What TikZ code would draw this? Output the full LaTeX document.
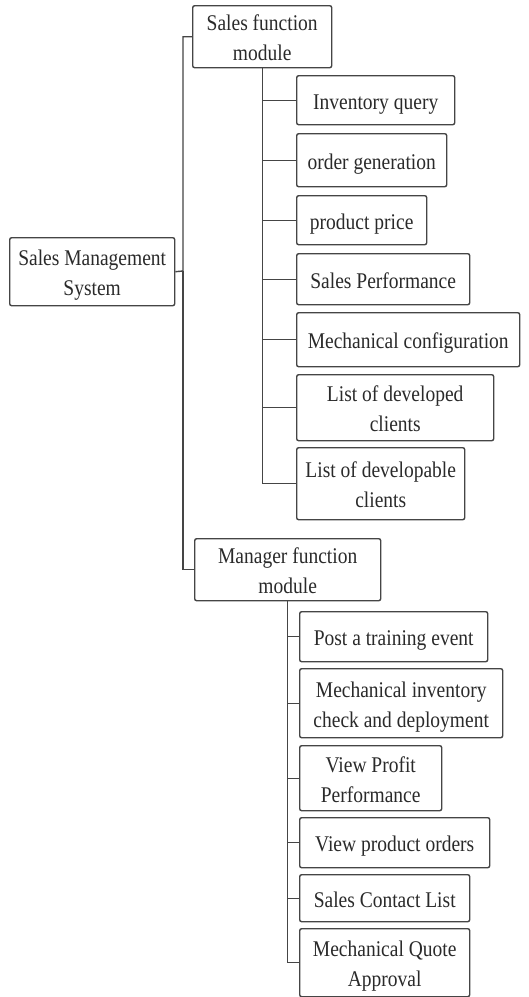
\documentclass[tikz,border=0pt]{standalone}
\usepackage{fontspec}
\setmainfont{Liberation Serif}
\usepackage{graphicx}
\definecolor{linec}{HTML}{454545}
\definecolor{txtc}{HTML}{2A2A2A}
\newcommand{\stt}[1]{\raisebox{-3pt}[\height][\depth]{\scalebox{1}[1.15]{\begin{tabular}{@{}c@{}}#1\end{tabular}}}}
\begin{document}
\begin{tikzpicture}[x=1pt,y=-1pt,
  box/.style={draw=linec, line width=1.4pt, rounded corners=2pt, inner sep=0pt,
    anchor=north west, text=txtc, font=\fontsize{19.5}{26}\selectfont, align=center},
  conn/.style={draw=linec, line width=1.4pt}]
\fill[white] (0,0) rectangle (528,997);
\useasboundingbox (0,0) rectangle (528,997);
% root and modules
\node[box, minimum width=165pt, minimum height=68pt] (root) at (9,237) {\stt{Sales Management\\System}};
\node[box, minimum width=139pt, minimum height=62pt] (sfm) at (192,5) {\stt{Sales function\\module}};
\node[box, minimum width=186pt, minimum height=62pt] (mfm) at (194,538) {\stt{Manager function\\module}};
% sales children
\node[box, minimum width=158pt, minimum height=49pt] (c1) at (296,75) {\stt{Inventory query}};
\node[box, minimum width=150pt, minimum height=53pt] (c2) at (296,133) {\stt{order generation}};
\node[box, minimum width=130pt, minimum height=49pt] (c3) at (296,195) {\stt{product price}};
\node[box, minimum width=173pt, minimum height=51pt] (c4) at (296,253) {\stt{Sales Performance}};
\node[box, minimum width=223pt, minimum height=54pt] (c5) at (296,312) {\stt{Mechanical configuration}};
\node[box, minimum width=197pt, minimum height=66pt] (c6) at (296,374) {\stt{List of developed\\clients}};
\node[box, minimum width=168pt, minimum height=72pt] (c7) at (296,447) {\stt{List of developable\\clients}};
% manager children
\node[box, minimum width=188pt, minimum height=50pt] (m1) at (299,611) {\stt{Post a training event}};
\node[box, minimum width=203pt, minimum height=69pt] (m2) at (299,668) {\stt{Mechanical inventory\\check and deployment}};
\node[box, minimum width=142pt, minimum height=65pt] (m3) at (299,745) {\stt{View Profit\\Performance}};
\node[box, minimum width=190pt, minimum height=50pt] (m4) at (299,817) {\stt{View product orders}};
\node[box, minimum width=170pt, minimum height=47pt] (m5) at (299,874) {\stt{Sales Contact List}};
\node[box, minimum width=170pt, minimum height=68pt] (m6) at (299,928) {\stt{Mechanical Quote\\Approval}};
% connectors
\coordinate (bus) at (183,271);
\draw[conn] (root.east) -- (bus) |- (sfm.west);
\draw[conn] (bus) |- (mfm.west);
\foreach \c in {c1,c2,c3,c4,c5,c6,c7}
  \draw[conn] (sfm.south) |- (\c.west);
\foreach \m in {m1,m2,m3,m4,m5,m6}
  \draw[conn] (mfm.south) |- (\m.west);
\end{tikzpicture}
\end{document}
